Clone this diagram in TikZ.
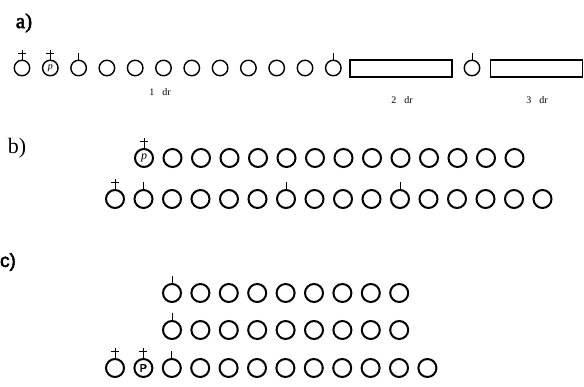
\documentclass[tikz,border=0pt]{standalone}
\usepackage{fontspec}
\setmainfont{Liberation Serif}
\setsansfont{Liberation Sans}
\newfontfamily\hdserif[FakeBold=2.5]{Liberation Serif}
\newfontfamily\hdsans[FakeBold=2.5]{Liberation Sans}
\begin{document}
\begin{tikzpicture}[x=1pt,y=-1pt,
  ca/.style={circle, draw, line width=1.4pt, minimum size=15.5pt, inner sep=0pt, font=\itshape\fontsize{10}{10}\selectfont},
  cb/.style={circle, draw, line width=2pt, minimum size=18pt, inner sep=0pt, font=\itshape\fontsize{12}{12}\selectfont},
  cc/.style={circle, draw, line width=2pt, minimum size=18pt, inner sep=0pt, font=\hdsans\fontsize{11}{11}\selectfont},
  tk/.style={line width=1pt},
  rectbox/.style={draw, line width=1.6pt, minimum height=17pt, inner sep=0pt},
  lab/.style={font=\fontsize{10}{10}\selectfont},
]
\useasboundingbox (0,0) rectangle (584,387);
% labels
\node[font=\hdserif\fontsize{21}{21}\selectfont] (la) at (24,23) {a)};
\node[font=\fontsize{22}{22}\selectfont] (lb) at (17,148) {b)};
\node[font=\hdsans\fontsize{19}{19}\selectfont] (lc) at (8,262) {c)};

% row a
\foreach \i in {0,2,3,...,11} \node[ca] (a\i) at ({22+28.3*\i},68) {};
\node[ca] (a1) at (50.3,68) {p};
\node[rectbox, minimum width=102pt] (r1) at (401,68.5) {};
\node[ca] (a12) at (472,68) {};
\node[rectbox, minimum width=92pt] (r2) at (536.5,68.5) {};
\foreach \n in {a0,a1}{
  \draw[tk] (\n.north) -- ++(0,-10);
  \draw[tk] ([xshift=-4pt,yshift=6pt]\n.north) -- ++(8,0);
}
\foreach \n in {a2,a11,a12} \draw[tk] (\n.north) -- ++(0,-7);
\node[lab] (t1) at (160,92) {1\hspace{8pt}dr};
\node[lab] (t2) at (402,100) {2\hspace{8pt}dr};
\node[lab] (t3) at (537,100) {3\hspace{8pt}dr};

% row b1
\node[cb] (b0) at (144,158) {p};
\foreach \i in {1,...,13} \node[cb] (b\i) at ({144+28.5*\i},158) {};
\draw[tk] (b0.north) -- ++(0,-10);
\draw[tk] ([xshift=-4pt,yshift=6pt]b0.north) -- ++(8,0);
% row b2
\foreach \i in {0,...,15} \node[cb] (d\i) at ({115+28.5*\i},199) {};
\draw[tk] (d0.north) -- ++(0,-10);
\draw[tk] ([xshift=-4pt,yshift=6pt]d0.north) -- ++(8,0);
\foreach \n in {d1,d6,d10} \draw[tk] (\n.north) -- ++(0,-7);

% rows c
\foreach \i in {0,...,8} \node[cc] (e\i) at ({172+28.4*\i},293) {};
\foreach \i in {0,...,8} \node[cc] (f\i) at ({172+28.4*\i},330) {};
\draw[tk] (e0.north) -- ++(0,-7);
\draw[tk] (f0.north) -- ++(0,-7);
\foreach \i in {0,2,3,...,11} \node[cc] (g\i) at ({115+28.4*\i},368) {};
\node[cc] (g1) at (143.4,368) {P};
\foreach \n in {g0,g1}{
  \draw[tk] (\n.north) -- ++(0,-10);
  \draw[tk] ([xshift=-4pt,yshift=6pt]\n.north) -- ++(8,0);
}
\draw[tk] (g2.north) -- ++(0,-7);
\end{tikzpicture}
\end{document}
